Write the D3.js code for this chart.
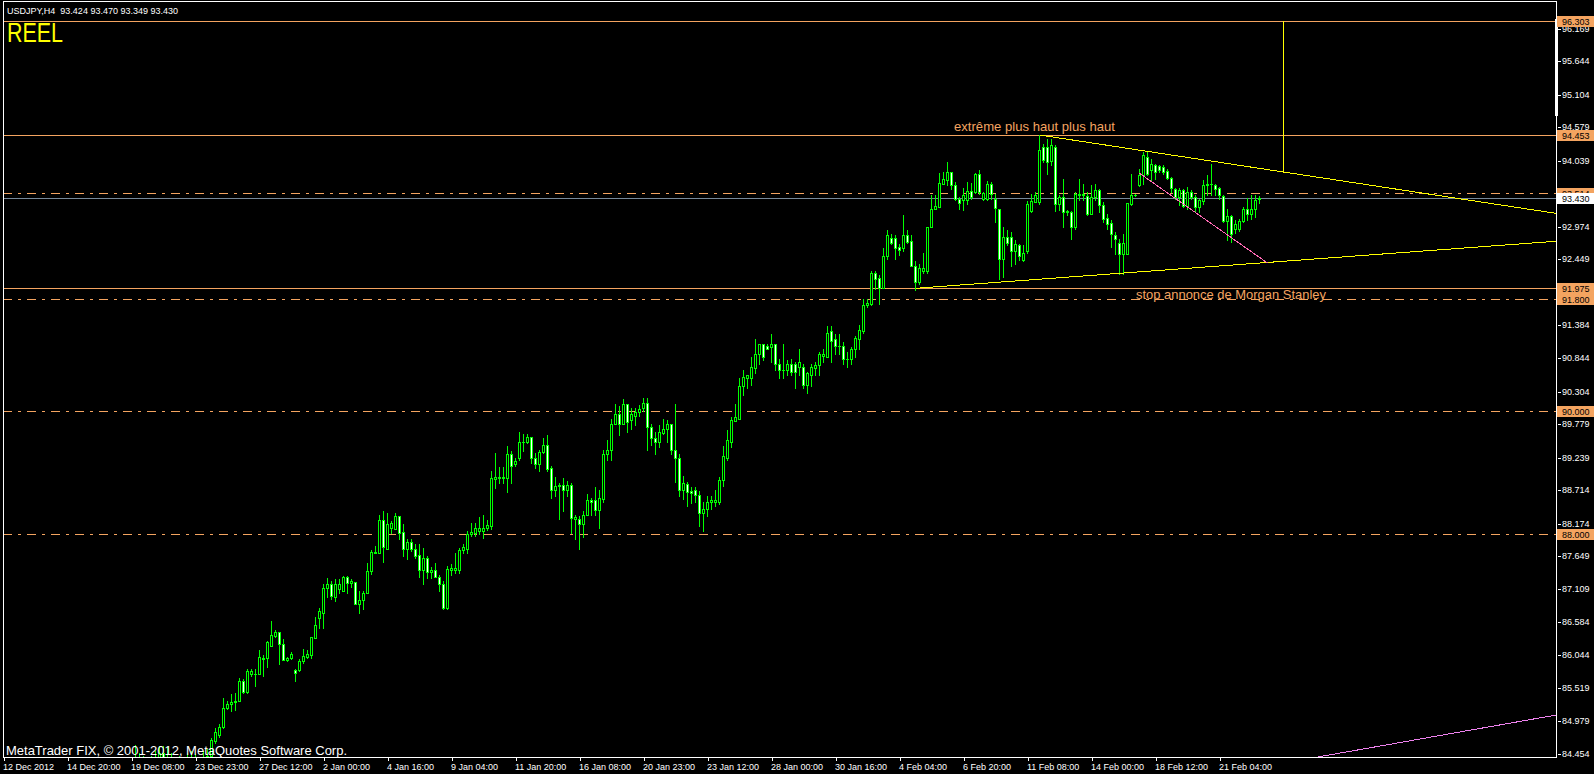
<!DOCTYPE html>
<html><head><meta charset="utf-8">
<script src="https://cdn.jsdelivr.net/npm/d3@7"></script>
<style>html,body{margin:0;padding:0;background:#000;overflow:hidden}</style>
</head><body>
<script>
// ---------- DATA ----------
const headerText = "USDJPY,H4  93.424 93.470 93.349 93.430";
const accountText = "REEL";
const copyrightText = "MetaTrader FIX, \u00a9 2001-2012, MetaQuotes Software Corp.";
const noteHigh = "extr\u00eame plus haut plus haut";
const noteStop = "stop annonce de Morgan Stanley";

const firstBar = 33;   // index of first bar in the arrays below (bar 0 = 12 Dec 2012)
const lastBar = 314;
const open = [
84.26,84.37,84.31,84.21,84.26,84.34,84.37,84.47,84.40,84.34,
84.18,84.26,84.21,84.31,84.37,84.31,84.24,84.34,84.40,84.42,
84.66,84.76,84.89,85.20,85.25,85.29,85.31,85.63,85.45,85.74,
85.74,85.74,85.99,86.00,86.19,86.36,86.42,86.23,85.97,86.00,
85.81,85.81,85.95,86.02,86.05,86.33,86.65,86.73,87.13,87.20,
86.98,87.12,87.08,87.31,87.21,87.23,86.87,86.94,87.05,87.40,
87.69,87.70,88.23,87.77,88.10,88.08,88.29,88.04,87.77,87.87,
87.77,87.66,87.42,87.62,87.39,87.42,87.31,87.20,86.81,87.42,
87.42,87.42,87.74,87.77,88.00,88.02,88.05,88.05,88.10,88.13,
88.89,88.91,88.91,88.91,89.29,89.13,89.23,89.49,89.49,89.57,
89.23,89.13,89.33,89.45,89.07,88.71,88.78,88.79,88.71,88.79,
88.25,88.25,88.16,88.32,88.55,88.55,88.39,88.57,89.29,89.36,
89.79,89.94,89.78,90.11,89.84,89.92,89.97,90.04,90.13,89.74,
89.55,89.49,89.63,89.70,89.79,89.37,89.24,88.71,88.81,88.70,
88.71,88.63,88.34,88.41,88.53,88.53,88.53,88.87,89.24,89.50,
89.83,89.87,90.39,90.52,90.52,90.68,90.91,91.07,91.04,91.02,
91.08,90.76,90.66,90.65,90.76,90.76,90.70,90.70,90.42,90.57,
90.68,90.73,90.89,90.87,91.28,91.15,91.05,91.05,90.84,90.83,
90.99,91.16,91.29,91.71,91.73,92.23,92.15,91.98,92.50,92.79,
92.79,92.65,92.63,92.84,92.74,92.34,92.07,92.26,92.26,92.97,
93.26,93.29,93.66,93.73,93.86,93.65,93.42,93.40,93.40,93.55,
93.54,93.83,93.42,93.42,93.66,93.42,93.26,92.45,92.81,92.81,
92.58,92.68,92.44,92.58,93.23,93.37,93.37,94.26,94.26,94.03,
94.26,93.34,93.45,93.23,93.21,92.97,93.50,93.50,93.47,93.18,
93.45,93.57,93.33,93.11,93.03,92.84,92.71,92.53,92.53,93.34,
93.49,93.65,93.81,94.10,93.89,93.97,93.95,93.94,93.87,93.76,
93.58,93.45,93.57,93.31,93.54,93.45,93.29,93.39,93.65,93.66,
93.65,93.60,93.47,93.07,93.15,92.94,92.94,93.07,93.26,93.18,
93.26,93.424];
const high = [
84.60,84.47,84.42,84.37,84.42,84.50,84.58,84.58,84.57,84.47,
84.34,84.42,84.37,84.47,84.50,84.45,84.40,84.49,84.53,84.70,
84.87,84.94,85.36,85.31,85.42,85.44,85.68,85.66,85.83,85.83,
85.83,86.13,86.05,86.28,86.60,86.45,86.42,86.31,86.02,86.10,
85.83,85.99,86.15,86.13,86.34,86.66,86.81,87.20,87.29,87.24,
87.27,87.27,87.33,87.33,87.27,87.23,87.08,87.08,87.54,87.75,
87.81,88.31,88.37,88.34,88.21,88.34,88.29,88.16,87.92,87.92,
87.84,87.84,87.78,87.65,87.47,87.54,87.34,87.24,87.49,87.52,
87.70,87.78,87.84,88.05,88.18,88.18,88.28,88.31,88.23,89.02,
89.31,89.08,89.08,89.42,89.34,89.23,89.65,89.62,89.62,89.57,
89.31,89.36,89.55,89.60,89.10,88.92,88.83,88.91,88.86,88.83,
88.31,88.29,88.37,88.65,88.58,88.76,88.71,89.37,89.53,89.87,
90.10,90.07,90.18,90.11,90.04,90.04,90.09,90.20,90.20,89.78,
89.66,89.76,89.86,89.84,89.79,90.10,89.29,88.94,88.84,88.76,
88.76,88.70,88.53,88.62,88.62,88.71,88.92,89.42,89.68,89.90,
90.11,90.52,90.66,90.58,90.87,91.16,91.08,91.07,91.07,91.23,
91.08,90.84,91.07,90.81,90.84,90.79,90.99,90.76,90.63,90.76,
90.79,90.95,91.00,91.37,91.36,91.23,91.23,91.11,90.95,91.02,
91.20,91.39,91.81,91.81,92.25,92.26,92.19,92.62,92.92,92.86,
92.84,92.70,93.16,92.92,92.84,92.41,92.37,92.55,92.97,93.49,
93.49,93.84,93.86,94.02,93.86,93.70,93.45,93.60,93.70,93.68,
93.84,93.89,93.54,93.71,93.70,93.50,93.26,92.97,92.92,92.89,
92.76,92.70,92.68,93.39,93.50,93.54,94.45,94.31,94.39,94.39,
94.29,93.49,93.74,93.24,93.23,93.54,93.74,93.66,93.54,93.65,
93.66,93.58,93.37,93.18,93.08,92.89,92.78,92.86,93.36,93.83,
93.50,93.90,94.18,94.18,94.07,93.99,93.97,93.97,93.90,93.78,
93.60,93.60,93.58,93.62,93.57,93.49,93.42,93.73,93.81,93.99,
93.66,93.62,93.49,93.26,93.16,93.08,93.10,93.29,93.44,93.49,
93.49,93.470];
const low = [
84.10,84.18,84.10,84.02,84.15,84.21,84.26,84.31,84.24,84.10,
84.02,84.10,84.02,84.18,84.21,84.15,84.05,84.21,84.28,84.37,
84.63,84.73,84.87,85.18,85.15,85.16,85.31,85.44,85.44,85.71,
85.55,85.74,85.71,85.86,86.19,86.34,85.90,85.97,85.95,85.99,
85.63,85.79,85.92,86.00,86.00,86.33,86.49,86.49,86.98,86.95,
86.92,87.05,87.08,87.05,87.15,86.87,86.73,86.79,87.05,87.36,
87.69,87.70,87.55,87.77,88.02,88.08,87.92,87.65,87.60,87.73,
87.62,87.31,87.20,87.29,87.29,87.31,87.08,86.79,86.79,87.34,
87.37,87.37,87.70,87.69,87.98,87.98,88.00,87.94,88.07,88.08,
88.75,88.83,88.83,88.69,88.83,89.11,89.20,89.34,89.47,89.16,
89.07,89.03,89.31,89.03,88.58,88.62,88.25,88.37,88.62,88.02,
87.92,87.77,87.95,88.32,88.31,88.31,88.10,88.53,89.20,89.20,
89.78,89.60,89.78,89.65,89.70,89.76,89.91,89.99,89.37,89.45,
89.29,89.41,89.62,89.50,89.29,88.84,88.62,88.57,88.45,88.50,
88.53,88.13,88.05,88.29,88.41,88.45,88.49,88.78,89.20,89.41,
89.83,89.87,90.25,90.37,90.41,90.61,90.75,90.82,90.99,90.79,
90.65,90.52,90.52,90.57,90.58,90.36,90.58,90.37,90.28,90.39,
90.58,90.58,90.79,90.86,90.78,90.91,90.91,90.75,90.70,90.75,
90.87,91.00,91.26,91.68,91.71,91.97,91.73,91.98,92.45,92.70,
92.45,92.52,92.58,92.71,92.33,91.95,92.05,92.23,92.23,92.97,
93.26,93.29,93.66,93.65,93.58,93.40,93.26,93.24,93.34,93.42,
93.52,93.50,93.40,93.40,93.42,93.05,92.13,92.16,92.68,92.33,
92.37,92.44,92.41,92.55,93.21,93.37,93.34,94.02,93.82,93.97,
93.23,93.24,92.97,93.16,92.78,92.94,93.40,93.40,93.16,93.18,
93.40,93.21,93.05,92.94,92.65,92.53,92.20,92.20,92.53,93.32,
93.47,93.63,93.66,93.81,93.73,93.74,93.86,93.83,93.74,93.54,
93.42,93.32,93.29,93.26,93.42,93.21,93.21,93.34,93.49,93.49,
93.49,93.42,93.05,92.76,92.73,92.87,92.90,93.05,93.08,93.10,
93.13,93.349];
const close = [
84.37,84.31,84.21,84.26,84.34,84.37,84.47,84.40,84.34,84.18,
84.26,84.21,84.31,84.37,84.31,84.24,84.34,84.40,84.42,84.68,
84.81,84.89,85.20,85.26,85.29,85.31,85.63,85.45,85.79,85.79,
85.74,86.02,86.00,86.26,86.37,86.42,86.23,85.97,86.00,86.07,
85.76,85.95,86.03,86.07,86.34,86.54,86.76,87.13,87.20,87.00,
87.20,87.20,87.31,87.21,87.24,86.87,86.94,87.05,87.40,87.71,
87.72,88.23,87.79,88.16,88.18,88.29,88.02,87.77,87.87,87.77,
87.65,87.42,87.62,87.39,87.42,87.31,87.20,86.81,87.44,87.45,
87.45,87.74,87.79,88.00,88.04,88.10,88.10,88.11,88.15,88.91,
88.92,88.92,88.92,89.29,89.11,89.18,89.49,89.50,89.57,89.23,
89.13,89.33,89.45,89.05,88.71,88.78,88.79,88.71,88.79,88.26,
88.28,88.16,88.32,88.55,88.53,88.39,88.58,89.29,89.37,89.79,
89.94,89.78,90.11,89.81,89.94,89.97,90.02,90.13,89.73,89.55,
89.49,89.65,89.71,89.79,89.37,89.23,88.71,88.83,88.69,88.66,
88.63,88.34,88.41,88.53,88.55,88.55,88.87,89.26,89.53,89.84,
89.89,90.39,90.55,90.57,90.70,90.92,91.07,90.87,90.99,91.08,
90.76,90.65,90.65,90.76,90.62,90.62,90.78,90.42,90.60,90.70,
90.73,90.91,90.91,91.26,91.13,91.05,91.05,90.83,90.83,91.00,
91.18,91.31,91.71,91.74,92.23,92.13,91.98,92.50,92.84,92.71,
92.63,92.60,92.84,92.73,92.33,92.07,92.31,92.31,92.97,93.26,
93.31,93.68,93.74,93.86,93.65,93.42,93.36,93.49,93.55,93.45,
93.83,93.54,93.52,93.66,93.50,93.28,92.45,92.81,92.71,92.58,
92.70,92.50,92.55,93.34,93.39,93.49,94.21,94.05,94.02,94.29,
93.34,93.45,93.21,93.21,92.97,93.50,93.49,93.49,93.18,93.45,
93.57,93.33,93.10,93.02,92.86,92.78,92.53,92.71,93.36,93.49,
93.49,93.81,94.13,93.83,93.99,93.86,93.89,93.86,93.76,93.60,
93.45,93.57,93.31,93.54,93.45,93.29,93.40,93.65,93.66,93.66,
93.58,93.49,93.07,93.15,92.86,93.02,93.07,93.26,93.18,93.26,
93.40,93.430];

const timeLabels = ["12 Dec 2012","14 Dec 20:00","19 Dec 08:00","23 Dec 23:00","27 Dec 12:00",
  "2 Jan 00:00","4 Jan 16:00","9 Jan 04:00","11 Jan 20:00","16 Jan 08:00","20 Jan 23:00",
  "23 Jan 12:00","28 Jan 00:00","30 Jan 16:00","4 Feb 04:00","6 Feb 20:00","11 Feb 08:00",
  "14 Feb 00:00","18 Feb 12:00","21 Feb 04:00"];
const barsPerTimeLabel = 16;
const priceTicks = [96.169,95.644,95.104,94.579,94.039,93.514,92.974,92.449,91.909,91.384,
  90.844,90.304,89.779,89.239,88.714,88.174,87.649,87.109,86.584,86.044,85.519,84.979,84.454];
const solidLevels = [96.303, 94.453, 91.975];
const dashLevels = [93.514, 91.800, 90.000, 88.000];
const bidPrice = 93.430;
// trend lines: [bar, price] anchor pairs
const upperTrend = [[259, 94.454], [285, 94.199]];
const lowerTrend = [[228, 91.976], [280, 92.223]];
const channelLine = [[284, 93.835], [316, 92.385]];
const farLine = [[328.5, 84.40], [388.25, 85.08]];
const verticalLineBar = 320;
const verticalLineTop = 96.303;

// ---------- DRAW ----------
const W = 1594, H = 774;
const plotL = 3, plotR = 1556, plotT = 1, plotB = 757;
const ORANGE = "#f4a460", LIME = "#00ff00", YELLOW = "#ffff00";
const svg = d3.select("body").append("svg").attr("width", W).attr("height", H).style("display","block");
svg.append("rect").attr("width", W).attr("height", H).attr("fill", "#000");

const x = d3.scaleLinear().domain([0, 314]).range([3, 1259]);
const y = d3.scaleLinear().domain([84.454, 96.303]).range([753.7, 20.6]);

svg.append("defs").append("clipPath").attr("id","plot")
  .append("rect").attr("x", plotL+1).attr("y", plotT+1).attr("width", plotR-plotL-1).attr("height", plotB-plotT-1);
const plot = svg.append("g").attr("clip-path","url(#plot)");

// horizontal levels
const hy = p => Math.round(y(p)) + 0.5;
plot.selectAll("line.solid").data(solidLevels).join("line")
  .attr("x1", plotL).attr("x2", plotR).attr("y1", hy).attr("y2", hy)
  .attr("stroke", ORANGE).attr("stroke-width", 1).attr("shape-rendering","crispEdges");
plot.selectAll("line.dash").data(dashLevels).join("line")
  .attr("x1", plotL).attr("x2", plotR).attr("y1", hy).attr("y2", hy)
  .attr("stroke", ORANGE).attr("stroke-width", 1).attr("stroke-dasharray","9,6,3,6")
  .attr("shape-rendering","crispEdges");
plot.append("line").attr("x1", plotL).attr("x2", plotR).attr("y1", hy(bidPrice)).attr("y2", hy(bidPrice))
  .attr("stroke", "#778899").attr("shape-rendering","crispEdges");

// candles
const bars = d3.range(firstBar, lastBar + 1).map((b, k) => ({b, o: open[k], h: high[k], l: low[k], c: close[k]}));
const cg = plot.append("g").attr("shape-rendering","crispEdges");
bars.forEach(d => {
  const cx = Math.round(x(d.b));
  const yh = Math.round(y(d.h)), yl = Math.round(y(d.l));
  const yo = Math.round(y(d.o)), yc = Math.round(y(d.c));
  cg.append("rect").attr("x", cx).attr("y", yh).attr("width", 1).attr("height", Math.max(1, yl - yh + 1)).attr("fill", LIME);
  const top = Math.min(yo, yc), bot = Math.max(yo, yc);
  cg.append("rect").attr("x", cx - 1).attr("y", top).attr("width", 3).attr("height", bot - top + 1).attr("fill", LIME);
  if (bot - top >= 2) {
    cg.append("rect").attr("x", cx).attr("y", top + 1).attr("width", 1).attr("height", bot - top - 1)
      .attr("fill", d.c >= d.o ? "#000" : "#fff");
  }
});

// trend lines
function ray(a, b) {
  const x0 = x(a[0]), y0 = y(a[1]), x1 = x(b[0]), y1 = y(b[1]);
  const s = (y1 - y0) / (x1 - x0);
  return [x0, y0, plotR, y0 + s * (plotR - x0)];
}
function seg(a, b) { return [x(a[0]), y(a[1]), x(b[0]), y(b[1])]; }
const lines = [
  {p: ray(...upperTrend), c: YELLOW},
  {p: ray(...lowerTrend), c: YELLOW},
  {p: seg(...channelLine), c: "#ff69b4"},
  {p: ray(...farLine), c: "#ee82ee"}
];
plot.selectAll("line.tl").data(lines).join("line")
  .attr("x1", d => d.p[0] + 0.5).attr("y1", d => d.p[1]).attr("x2", d => d.p[2] + 0.5).attr("y2", d => d.p[3])
  .attr("stroke", d => d.c).attr("stroke-width", 1).attr("shape-rendering","crispEdges");
// vertical line down to the upper trend line
const s1 = (upperTrend[1][1] - upperTrend[0][1]) / (upperTrend[1][0] - upperTrend[0][0]);
const vEnd = upperTrend[0][1] + s1 * (verticalLineBar - upperTrend[0][0]);
plot.append("line").attr("x1", Math.round(x(verticalLineBar)) + 0.5).attr("x2", Math.round(x(verticalLineBar)) + 0.5)
  .attr("y1", y(verticalLineTop)).attr("y2", y(vEnd)).attr("stroke", YELLOW).attr("shape-rendering","crispEdges");

// annotations
const FONT = "'Liberation Sans', Arial, sans-serif";
plot.append("text").attr("x", 954).attr("y", y(94.453) - 4).text(noteHigh)
  .attr("fill", ORANGE).attr("font-family", FONT).attr("font-size", 13)
  .attr("textLength", 161).attr("lengthAdjust", "spacingAndGlyphs");
plot.append("text").attr("x", 1136).attr("y", y(91.800) - 0.5).text(noteStop)
  .attr("fill", ORANGE).attr("font-family", FONT).attr("font-size", 13)
  .attr("textLength", 190).attr("lengthAdjust", "spacingAndGlyphs");

// frame
const fr = svg.append("g").attr("shape-rendering","crispEdges");
fr.append("rect").attr("x", plotL).attr("y", plotT).attr("width", plotR - plotL).attr("height", 1).attr("fill", "#fff");
fr.append("rect").attr("x", plotL).attr("y", plotT).attr("width", 1).attr("height", plotB - plotT).attr("fill", "#fff");
fr.append("rect").attr("x", plotR).attr("y", plotT).attr("width", 1).attr("height", plotB - plotT + 1).attr("fill", "#fff");
fr.append("rect").attr("x", plotL).attr("y", plotB).attr("width", plotR - plotL + 1).attr("height", 1).attr("fill", "#fff");
fr.append("rect").attr("x", plotR - 1).attr("y", 19).attr("width", 3).attr("height", 97).attr("fill", "#fff");

// price axis
const pa = svg.append("g");
priceTicks.forEach(v => {
  const ty = Math.round(y(v));
  pa.append("rect").attr("x", plotR + 2).attr("y", ty).attr("width", 3).attr("height", 1).attr("fill", "#fff").attr("shape-rendering","crispEdges");
  pa.append("text").attr("x", 1562).attr("y", ty + 3).text(v.toFixed(3))
    .attr("fill", "#fff").attr("font-family", FONT).attr("font-size", 9);
});
// level boxes
function box(v, bg) {
  const ty = Math.round(y(v));
  pa.append("rect").attr("x", plotR + 1).attr("y", ty - 5).attr("width", W - plotR - 1).attr("height", 11)
    .attr("fill", bg).attr("shape-rendering","crispEdges");
  pa.append("text").attr("x", 1562).attr("y", ty + 3.5).text(v.toFixed(3))
    .attr("fill", "#000").attr("font-family", FONT).attr("font-size", 9);
}
[...solidLevels, ...dashLevels].forEach(v => box(v, ORANGE));
box(bidPrice, "#fff");

// time axis
const ta = svg.append("g");
timeLabels.forEach((t, k) => {
  const tx = Math.round(x(k * barsPerTimeLabel)) + 1;
  ta.append("rect").attr("x", tx).attr("y", plotB + 1).attr("width", 1).attr("height", 3).attr("fill", "#fff").attr("shape-rendering","crispEdges");
  ta.append("text").attr("x", tx - 1).attr("y", 769.5).text(t)
    .attr("fill", "#fff").attr("font-family", FONT).attr("font-size", 9);
});

// header texts
svg.append("text").attr("x", 7).attr("y", 14).text(headerText)
  .attr("fill", "#fff").attr("font-family", FONT).attr("font-size", 9).style("white-space","pre")
  .attr("xml:space","preserve");
svg.append("text").attr("x", 7).attr("y", 42).text(accountText)
  .attr("fill", YELLOW).attr("font-family", FONT).attr("font-size", 27)
  .attr("textLength", 56).attr("lengthAdjust", "spacingAndGlyphs");
svg.append("text").attr("x", 6).attr("y", 755).text(copyrightText)
  .attr("fill", "#fff").attr("font-family", FONT).attr("font-size", 13)
  .attr("textLength", 341).attr("lengthAdjust", "spacingAndGlyphs");
</script>
</body></html>
